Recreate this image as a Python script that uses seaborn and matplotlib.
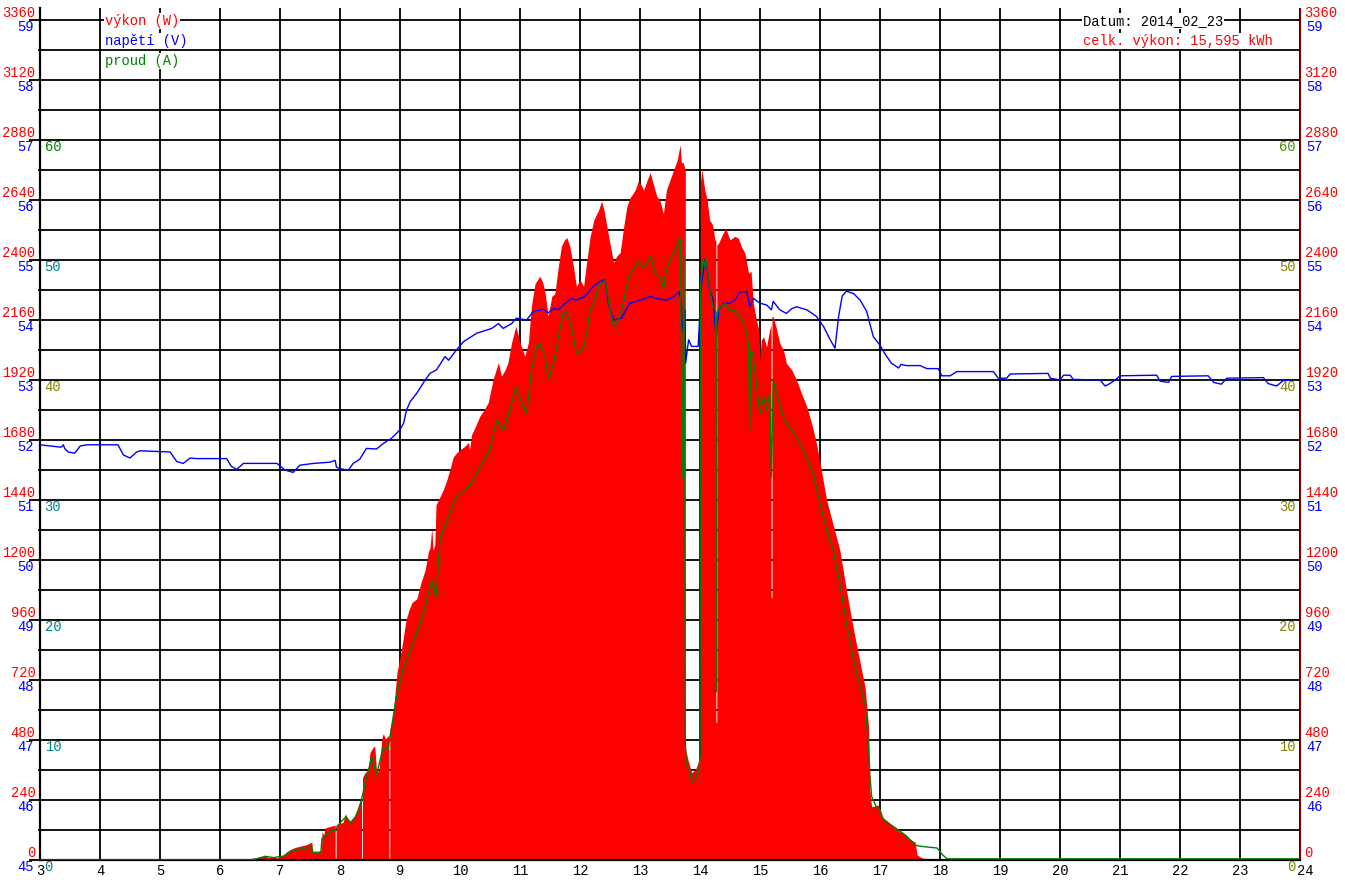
import numpy as np
import matplotlib
matplotlib.use("Agg")
import matplotlib.pyplot as plt
import matplotlib.transforms as mtransforms
import seaborn as sns

# --- data (hour of day) ---
hodiny_p = [3.0, 6.45, 6.5, 6.6, 6.7, 6.75, 6.8, 6.9, 6.95, 7.0, 7.05, 7.1, 7.17, 7.25, 7.33,
            7.45, 7.53, 7.54, 7.65, 7.69, 7.7, 7.73, 7.75, 7.85, 7.92, 7.92, 7.935, 7.935,
            8.05, 8.09, 8.12, 8.17, 8.25, 8.33, 8.36, 8.36, 8.375, 8.375, 8.42, 8.47, 8.5,
            8.55, 8.58, 8.61, 8.65, 8.7, 8.72, 8.76, 8.815, 8.815, 8.83, 8.83, 8.87, 8.9,
            8.95, 9.0, 9.05, 9.1, 9.15, 9.2, 9.28, 9.35, 9.42, 9.47, 9.5, 9.53, 9.55, 9.58,
            9.6, 9.64, 9.72, 9.78, 9.83, 9.89, 9.95, 10.0, 10.08, 10.14, 10.16, 10.19, 10.25,
            10.33, 10.4, 10.47, 10.55, 10.6, 10.64, 10.69, 10.75, 10.8, 10.86, 10.93, 10.97,
            11.0, 11.08, 11.14, 11.19, 11.25, 11.33, 11.38, 11.42, 11.47, 11.53, 11.58, 11.64,
            11.69, 11.74, 11.78, 11.83, 11.89, 11.94, 12.0, 12.06, 12.11, 12.17, 12.23, 12.31,
            12.36, 12.4, 12.44, 12.5, 12.56, 12.61, 12.67, 12.72, 12.78, 12.83, 12.92, 12.97,
            13.02, 13.06, 13.12, 13.17, 13.22, 13.28, 13.33, 13.39, 13.44, 13.5, 13.56, 13.62,
            13.66, 13.67, 13.69, 13.72, 13.755, 13.755, 13.8, 13.86, 13.92, 13.97, 14.0,
            14.005, 14.005, 14.03, 14.08, 14.12, 14.16, 14.21, 14.25, 14.265, 14.265, 14.28,
            14.28, 14.31, 14.36, 14.43, 14.5, 14.58, 14.64, 14.69, 14.75, 14.81, 14.85, 14.89,
            14.94, 14.98, 15.0, 15.02, 15.06, 15.11, 15.16, 15.185, 15.185, 15.2, 15.2, 15.22,
            15.28, 15.33, 15.39, 15.44, 15.53, 15.61, 15.69, 15.78, 15.86, 15.94, 16.0, 16.11,
            16.22, 16.33, 16.44, 16.56, 16.67, 16.75, 16.81, 16.83, 16.86, 16.97, 17.03, 17.17,
            17.22, 17.33, 17.44, 17.5, 17.58, 17.62, 17.7, 17.8, 17.9, 24.0]
vykon = [0, 0, 6, 8, 12, 20, 10, 12, 8, 14, 15, 30, 42, 50, 55,
         62, 72, 35, 36, 38, 112, 100, 128, 135, 140, 0, 0, 142,
         150, 185, 170, 155, 180, 235, 240, 0, 0, 330, 350, 360, 430,
         450, 455, 350, 360, 490, 505, 485, 500, 0, 0, 520, 560, 620,
         750, 810, 880, 960, 1000, 1030, 1045, 1110, 1160, 1230, 1250, 1330, 1240, 1260,
         1420, 1440, 1480, 1520, 1560, 1613, 1630, 1640, 1655, 1670, 1640, 1700, 1730,
         1775, 1800, 1830, 1920, 1960, 1990, 1935, 1960, 1990, 2070, 2135, 2100,
         2070, 2015, 2070, 2215, 2305, 2335, 2310, 2265, 2175, 2255, 2265, 2375,
         2455, 2480, 2490, 2455, 2375, 2295, 2320, 2295, 2390, 2495, 2560, 2600,
         2635, 2600, 2545, 2465, 2390, 2415, 2430, 2520, 2613, 2647, 2680, 2715,
         2700, 2680, 2720, 2750, 2705, 2655, 2640, 2585, 2680, 2720, 2760, 2800,
         2850, 2860, 2790, 2790, 2760, 450, 400, 350, 360, 390, 420,
         420, 2700, 2765, 2680, 2640, 2560, 2540, 2480, 2480, 550, 550,
         2460, 2467, 2495, 2527, 2480, 2495, 2487, 2453, 2427, 2347, 2355, 2227,
         2160, 2120, 2000, 2080, 2093, 2053, 2120, 2140, 1050, 1050, 2175, 2173,
         2120, 2067, 2040, 1987, 1960, 1920, 1867, 1813, 1747, 1667, 1590, 1440,
         1340, 1240, 1080, 920, 787, 693, 533, 280, 213, 220, 173, 147,
         133, 113, 100, 80, 73, 20, 8, 5, 0, 0]

hodiny_a = [3.0, 6.5, 6.6, 6.75, 6.9, 7.0, 7.05, 7.17, 7.33, 7.53, 7.55, 7.68, 7.7, 7.75, 7.84,
            7.92, 8.0, 8.1, 8.17, 8.25, 8.33, 8.42, 8.53, 8.61, 8.72, 8.8, 8.86, 8.94, 9.06,
            9.22, 9.39, 9.53, 9.6, 9.67, 9.83, 9.94, 10.14, 10.22, 10.39, 10.5, 10.61, 10.72,
            10.83, 10.93, 11.03, 11.11, 11.19, 11.28, 11.33, 11.42, 11.47, 11.56, 11.64, 11.72,
            11.78, 11.86, 11.94, 12.03, 12.08, 12.17, 12.25, 12.31, 12.36, 12.42, 12.47, 12.56,
            12.64, 12.72, 12.81, 12.89, 12.97, 13.06, 13.11, 13.18, 13.25, 13.33, 13.39, 13.44,
            13.53, 13.61, 13.67, 13.69, 13.71, 13.73, 13.745, 13.755, 13.77, 13.82, 13.87,
            13.93, 13.98, 14.0, 14.01, 14.05, 14.08, 14.1, 14.17, 14.22, 14.26, 14.27, 14.28,
            14.33, 14.42, 14.5, 14.58, 14.67, 14.75, 14.81, 14.83, 14.85, 14.88, 14.94, 15.0,
            15.06, 15.11, 15.16, 15.19, 15.22, 15.31, 15.39, 15.44, 15.56, 15.67, 15.78, 15.89,
            16.0, 16.11, 16.22, 16.33, 16.44, 16.56, 16.67, 16.75, 16.81, 16.83, 16.86, 16.94,
            17.0, 17.06, 17.22, 17.39, 17.5, 17.61, 17.75, 17.95, 18.05, 18.12, 24.0]
proud = [0, 0, 0.1, 0.3, 0.2, 0.3, 0.3, 0.7, 0.9, 1.1, 0.6, 0.6, 1.8, 2.0, 2.4,
         2.5, 3.1, 3.6, 3.1, 3.5, 4.4, 6.4, 8.6, 7.1, 9.4, 9.2, 11.1, 13.6, 16.1,
         18.1, 20.6, 23.3, 21.9, 26.9, 28.9, 30.3, 31.1, 31.7, 33.3, 34.2, 36.7, 35.8,
         37.5, 39.4, 38.1, 37.2, 40.8, 42.8, 43.1, 41.9, 40.1, 41.4, 43.6, 45.6,
         45.7, 44.4, 42.2, 42.5, 43.1, 45.8, 46.7, 47.8, 48.1, 48.3, 46.7, 44.4,
         45.0, 46.4, 48.6, 49.2, 49.9, 49.4, 49.7, 50.3, 48.9, 48.6, 47.6, 49.2,
         50.3, 51.1, 51.9, 41.7, 31.9, 50.3, 35.3, 10, 8, 7.5, 6.5,
         6.8, 7.5, 8.5, 47.8, 50.0, 49.5, 50.2, 47.2, 46.1, 45.8, 14, 45.5,
         46.1, 46.4, 45.7, 45.8, 45.3, 44.4, 43.1, 35.8, 42.5, 42.2, 39.7, 37.2,
         38.6, 37.5, 38.9, 31.9, 40.0, 38.3, 36.9, 36.4, 35.6, 34.7, 33.5, 32.1,
         29.7, 27.5, 25.8, 23.1, 19.7, 16.7, 14.4, 13.1, 9.4, 7.2, 5.3, 4.4,
         4.2, 3.3, 2.8, 2.2, 1.7, 1.2, 1.1, 1.0, 0.4, 0.1, 0.1]

hodiny_v = [3.0, 3.35, 3.39, 3.41, 3.47, 3.58, 3.67, 3.78, 4.3, 4.39, 4.5, 4.61, 4.67, 5.17,
            5.28, 5.39, 5.5, 5.61, 6.11, 6.19, 6.28, 6.39, 6.95, 7.08, 7.22, 7.33, 7.56, 7.83,
            7.92, 7.94, 8.0, 8.14, 8.22, 8.33, 8.44, 8.61, 8.72, 8.86, 9.0, 9.06, 9.11, 9.17,
            9.28, 9.42, 9.5, 9.61, 9.75, 9.81, 9.94, 10.06, 10.28, 10.53, 10.64, 10.72, 10.86,
            10.94, 11.11, 11.22, 11.39, 11.47, 11.56, 11.64, 11.72, 11.86, 11.94, 12.08, 12.22,
            12.33, 12.42, 12.47, 12.56, 12.69, 12.83, 13.0, 13.17, 13.28, 13.44, 13.56, 13.66,
            13.69, 13.7, 13.75, 13.76, 13.81, 13.86, 13.97, 14.02, 14.08, 14.11, 14.16, 14.22,
            14.27, 14.31, 14.39, 14.5, 14.58, 14.67, 14.78, 14.83, 14.89, 15.0, 15.11, 15.19,
            15.22, 15.33, 15.44, 15.53, 15.61, 15.78, 15.94, 16.06, 16.17, 16.25, 16.31, 16.37,
            16.44, 16.56, 16.67, 16.78, 16.83, 16.89, 17.0, 17.08, 17.19, 17.31, 17.35, 17.44,
            17.67, 17.78, 17.97, 18.03, 18.17, 18.28, 18.89, 18.97, 19.11, 19.17, 19.8, 19.84,
            20.0, 20.06, 20.17, 20.22, 20.67, 20.75, 20.83, 20.92, 21.0, 21.61, 21.67, 21.81,
            21.86, 22.47, 22.56, 22.69, 22.78, 23.39, 23.47, 23.61, 23.72, 23.83]
napeti = [51.92, 51.88, 51.92, 51.86, 51.8, 51.78, 51.9, 51.92, 51.92, 51.75, 51.7, 51.8, 51.82, 51.8,
          51.64, 51.61, 51.7, 51.69, 51.69, 51.56, 51.51, 51.61, 51.61, 51.5, 51.46, 51.58, 51.61, 51.63,
          51.66, 51.55, 51.52, 51.5, 51.61, 51.68, 51.86, 51.85, 51.94, 52.03, 52.17, 52.28, 52.5, 52.64,
          52.78, 53.0, 53.11, 53.17, 53.39, 53.33, 53.5, 53.64, 53.78, 53.86, 53.94, 53.86, 53.94,
          54.03, 54.0, 54.14, 54.18, 54.12, 54.19, 54.17, 54.25, 54.36, 54.33, 54.39, 54.56,
          54.64, 54.67, 54.28, 54.0, 54.03, 54.28, 54.33, 54.39, 54.36, 54.33, 54.39, 54.47,
          54.28, 53.83, 54.17, 53.28, 53.67, 53.56, 53.56, 54.56, 55.0, 54.89, 54.5, 54.33,
          53.67, 54.17, 54.28, 54.28, 54.33, 54.47, 54.47, 54.22, 54.36, 54.28, 54.25, 54.17,
          54.31, 54.17, 54.11, 54.19, 54.22, 54.17, 54.06, 53.89, 53.67, 53.53, 54.06, 54.4,
          54.48, 54.44, 54.33, 54.14, 53.94, 53.72, 53.58, 53.44, 53.28, 53.2, 53.26, 53.24,
          53.24, 53.19, 53.19, 53.07, 53.07, 53.14, 53.14, 53.03, 53.03, 53.1, 53.11, 53.03,
          53.0, 53.08, 53.08, 53.01, 53.0, 52.9, 52.94, 53.0, 53.07, 53.08, 52.98, 52.96,
          53.06, 53.07, 52.96, 52.93, 53.03, 53.04, 52.94, 52.9, 52.99, 53.0]

hodiny_ticks = list(range(3, 25))
vykon_ticks = list(range(0, 3361, 240))
napeti_ticks = list(range(45, 60))
proud_ticks = [0, 10, 20, 30, 40, 50, 60]
proud_barvy_l = ['#008080', '#008080', '#008080', '#008080', '#808000', '#008080', '#008000']
proud_barvy_r = ['#808000', '#808000', '#808000', '#808000', '#808000', '#808000', '#4c8a00']

datum = "2014_02_23"
celkem_kwh = "15,595"

sns.set_style("white")
plt.rcParams['font.family'] = ['Liberation Mono', 'DejaVu Sans Mono']
FS = 9.9

W, H = 1345, 880
fig = plt.figure(figsize=(W / 100, H / 100), dpi=100)
ax = fig.add_axes([40 / W, 20 / H, 1260 / W, 852 / H])
ax.set_xlim(3, 24)
ax.set_ylim(0, 3408)

# filled power area, grid underneath
ax.set_axisbelow(True)
ax.fill_between(hodiny_p, vykon, 0, color='#ff0000', lw=0, zorder=2)

# napětí (V)
ax_v = ax.twinx()
ax_v.set_ylim(45, 45 + 3408 / 240)
sns.lineplot(x=hodiny_v, y=napeti, ax=ax_v, color='#0000ff', lw=1.0,
             estimator=None, sort=False)

# proud (A)
ax_a = ax.twinx()
ax_a.set_ylim(0, 3408 / 48)
sns.lineplot(x=hodiny_a, y=proud, ax=ax_a, color='#008000', lw=1.0,
             estimator=None, sort=False)

# ticks of the main axis (set after twinx, which resets them)
ax.set_xticks(hodiny_ticks)
ax.set_xticklabels([str(h) for h in hodiny_ticks], fontsize=FS, color='black')
ax.set_yticks(vykon_ticks)
ax.set_yticks([v + 120 for v in vykon_ticks[:-1]], minor=True)
ax.grid(True, which='both', color='black', lw=1.3)
ax.tick_params(axis='x', length=0, pad=3)
ax.tick_params(axis='y', which='major', left=True, right=False, labelleft=True, labelright=True,
               length=7.9, width=1.3, color='black', pad=-4.6, labelsize=FS, labelcolor='red')
ax.tick_params(axis='y', which='minor', left=True, right=False, length=1.5, width=1.3)
for t in ax.yaxis.get_major_ticks():
    t.label1.set_va('bottom')
    t.label2.set_va('bottom')
posun = mtransforms.ScaledTranslation(-3 / 100, 0, fig.dpi_scale_trans)
posl = ax.get_xticklabels()[-1]
posl.set_ha('left')
posl.set_transform(posl.get_transform() + posun)

ax.spines['top'].set_visible(False)
ax.spines['left'].set_linewidth(1.6)
ax.spines['left'].set_color('black')
ax.spines['bottom'].set_linewidth(1.6)
ax.spines['bottom'].set_color('black')
ax.spines['right'].set_linewidth(0.8)
ax.spines['right'].set_color('#8b0000')

ax_v.set_yticks(napeti_ticks)
ax_v.tick_params(axis='y', left=False, right=False, labelleft=True, labelright=True,
                 length=0, pad=4.5, labelsize=FS, labelcolor='#0000ff')
for t in ax_v.yaxis.get_major_ticks():
    t.label1.set_va('top')
    t.label2.set_va('top')
# no 45 on the right side
ax_v.yaxis.get_major_ticks()[0].label2.set_visible(False)

ax_a.set_yticks(proud_ticks)
ax_a.tick_params(axis='y', left=False, right=False, labelleft=True, labelright=True,
                 length=0, pad=-3.3, labelsize=FS)
for t, cl, cr in zip(ax_a.yaxis.get_major_ticks(), proud_barvy_l, proud_barvy_r):
    t.label1.set_ha('left')
    t.label1.set_va('top')
    t.label1.set_color(cl)
    t.label2.set_ha('right')
    t.label2.set_va('top')
    t.label2.set_color(cr)

for a in (ax_v, ax_a):
    a.set_xlim(3, 24)
    a.set_ylabel('')
    a.set_xlabel('')
    for s in a.spines.values():
        s.set_visible(False)
    a.grid(False)

# legend and info texts
bb = dict(facecolor='white', edgecolor='none', pad=0.5)
ax.text(0.0516, 0.9847, "výkon (W)", transform=ax.transAxes, color='#ff0000',
        fontsize=FS, va='center', ha='left', bbox=bb, zorder=5)
ax.text(0.0516, 0.9613, "napětí (V)", transform=ax.transAxes, color='#0000ff',
        fontsize=FS, va='center', ha='left', bbox=bb, zorder=5)
ax.text(0.0516, 0.9378, "proud (A)", transform=ax.transAxes, color='#008000',
        fontsize=FS, va='center', ha='left', bbox=bb, zorder=5)
ax.text(0.8278, 0.9847, "Datum: " + datum, transform=ax.transAxes, color='black',
        fontsize=FS, va='center', ha='left', bbox=bb, zorder=5)
ax.text(0.8278, 0.9613, "celk. výkon: " + celkem_kwh + " kWh", transform=ax.transAxes,
        color='#ff0000', fontsize=FS, va='center', ha='left', bbox=bb, zorder=5)

fig.savefig("out.png", dpi=100, facecolor='white')
